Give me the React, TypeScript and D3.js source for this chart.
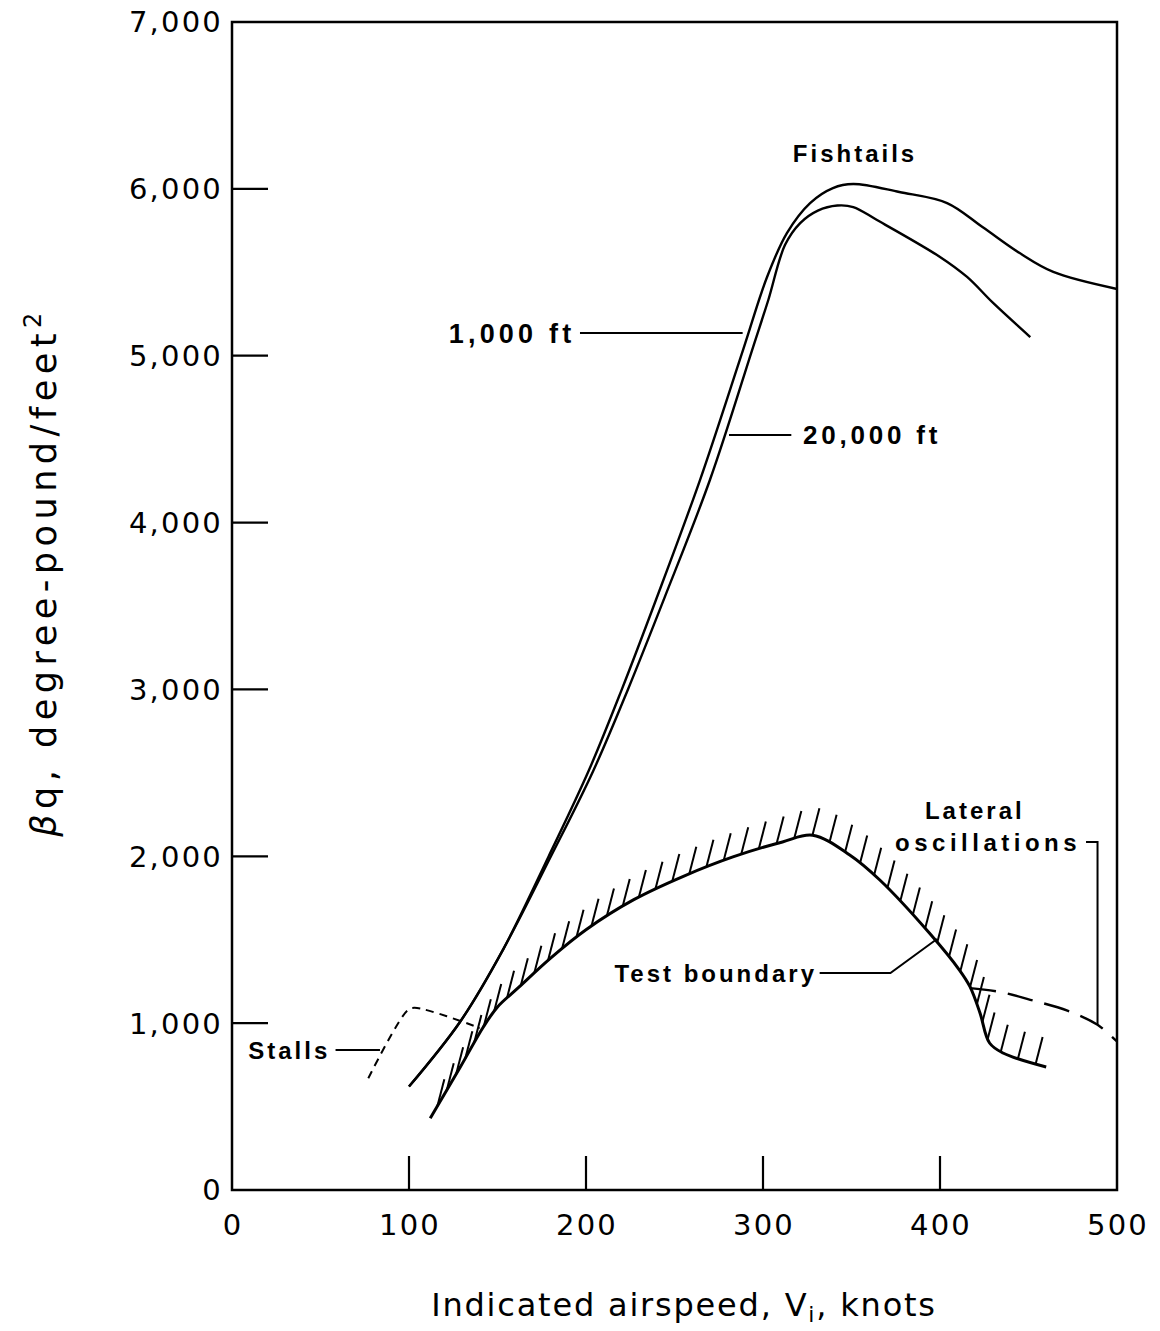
import React, { useEffect, useRef } from "react";
import * as d3 from "d3";

const W = 1160;
const H = 1331;

// Axis ticks
const knotTicks = [0, 100, 200, 300, 400, 500];
const betaTicks = [0, 1000, 2000, 3000, 4000, 5000, 6000, 7000];

// Fishtail limit, 1,000 ft altitude  [knots, beta*q]
const alt1000ft: [number, number][] = [
  [100, 620], [128.8, 1007], [153, 1438], [179, 2002], [201.7, 2517], [220.3, 3002],
  [239.5, 3536], [264.4, 4255], [288.7, 5034], [302.3, 5472], [313.5, 5735],
  [326.6, 5915], [339.5, 6005], [351, 6029], [377, 5981], [404, 5915],
  [424, 5771], [445, 5615], [464, 5502], [500, 5400],
];

// Fishtail limit, 20,000 ft altitude
const alt20000ft: [number, number][] = [
  [100, 620], [128.8, 1007], [153, 1438], [180.2, 2000], [204, 2510], [223.7, 3000],
  [244, 3540], [270, 4255], [294.4, 5052], [303, 5334], [312.4, 5663],
  [321, 5795], [331, 5870], [342, 5900], [351, 5891], [364.4, 5813],
  [400, 5592], [415.3, 5472], [430, 5316], [451, 5112],
];

// Test boundary
const testBoundary: [number, number][] = [
  [112, 430], [129, 737], [142, 977], [150, 1097], [161, 1205], [180, 1390],
  [200, 1560], [227, 1740], [255, 1880], [283, 1996], [311, 2086], [328, 2126],
  [349, 2008], [366, 1858], [394, 1540], [411, 1318], [417, 1217],
  [422.6, 1061], [428, 881], [435.6, 821], [460, 737],
];

// Lateral oscillation limit
const lateralOsc: [number, number][] = [
  [417, 1210], [435, 1185], [451, 1140], [472, 1075], [489, 990], [500, 890],
];

// Stall limit
const stallLimit: [number, number][] = [
  [77, 670], [99, 1075], [103, 1092], [140, 971],
];

export default function App() {
  const ref = useRef<SVGSVGElement>(null);

  useEffect(() => {
    const svg = d3.select(ref.current);
    svg.selectAll("*").remove();

    const x = d3.scaleLinear().domain([0, 500]).range([232, 1117]);
    const y = d3.scaleLinear().domain([0, 7000]).range([1190, 22]);
    const fmt = d3.format(",");
    const tickFont = "'DejaVu Sans', sans-serif";
    const noteFont = "'Liberation Sans', Arial, sans-serif";

    const smooth = d3
      .line<[number, number]>()
      .x((d) => x(d[0]))
      .y((d) => y(d[1]))
      .curve(d3.curveCatmullRom.alpha(0.5));
    const straight = d3
      .line<[number, number]>()
      .x((d) => x(d[0]))
      .y((d) => y(d[1]));

    // Frame
    svg
      .append("rect")
      .attr("x", x(0))
      .attr("y", y(7000))
      .attr("width", x(500) - x(0))
      .attr("height", y(0) - y(7000))
      .attr("fill", "none")
      .attr("stroke", "#000")
      .attr("stroke-width", 2.5);

    // Y ticks (inward) and labels
    const g = svg.append("g");
    g.selectAll("line.yt")
      .data(betaTicks.filter((t) => t > 0 && t < 7000))
      .join("line")
      .attr("x1", x(0))
      .attr("x2", x(0) + 36)
      .attr("y1", (d) => y(d))
      .attr("y2", (d) => y(d))
      .attr("stroke", "#000")
      .attr("stroke-width", 2.2);
    g.selectAll("text.yl")
      .data(betaTicks)
      .join("text")
      .attr("x", x(0) - 9)
      .attr("y", (d) => y(d))
      .attr("dy", "0.36em")
      .attr("text-anchor", "end")
      .attr("font-family", tickFont)
      .attr("font-size", 29)
      .attr("letter-spacing", 2.2)
      .text((d) => fmt(d));

    // X ticks (inward) and labels
    g.selectAll("line.xt")
      .data(knotTicks.filter((t) => t > 0 && t < 500))
      .join("line")
      .attr("x1", (d) => x(d))
      .attr("x2", (d) => x(d))
      .attr("y1", y(0))
      .attr("y2", y(0) - 34)
      .attr("stroke", "#000")
      .attr("stroke-width", 2.2);
    g.selectAll("text.xl")
      .data(knotTicks)
      .join("text")
      .attr("x", (d) => x(d) + 1)
      .attr("y", y(0) + 45)
      .attr("text-anchor", "middle")
      .attr("font-family", tickFont)
      .attr("font-size", 29)
      .attr("letter-spacing", 2.2)
      .text((d) => String(d));

    // Axis titles
    const xt = svg
      .append("text")
      .attr("x", 684)
      .attr("y", 1316)
      .attr("text-anchor", "middle")
      .attr("font-family", tickFont)
      .attr("font-size", 32)
      .attr("letter-spacing", 1.8);
    xt.append("tspan").text("Indicated airspeed, V");
    xt.append("tspan").attr("font-size", 22).attr("dy", 6).text("i");
    xt.append("tspan").attr("dy", -6).text(", knots");

    const yt = svg
      .append("text")
      .attr("transform", "translate(56,572) rotate(-90)")
      .attr("text-anchor", "middle")
      .attr("font-family", tickFont)
      .attr("font-size", 35)
      .attr("letter-spacing", 5.5);
    yt.append("tspan").attr("font-style", "italic").text("β");
    yt.append("tspan").text("q, degree-pound/feet");
    yt.append("tspan").attr("font-size", 24).attr("dy", -15).text("2");

    // Curves
    const curves: { data: [number, number][]; w: number; dash?: string }[] = [
      { data: alt1000ft, w: 2.4 },
      { data: alt20000ft, w: 2.4 },
      { data: testBoundary, w: 3 },
      { data: lateralOsc, w: 2.4, dash: "26,12" },
      { data: stallLimit, w: 2, dash: "8,6" },
    ];
    curves.forEach((c) => {
      svg
        .append("path")
        .attr("d", smooth(c.data))
        .attr("fill", "none")
        .attr("stroke", "#000")
        .attr("stroke-width", c.w)
        .attr("stroke-dasharray", c.dash ?? null);
    });

    // Hatching on the test boundary
    const bPath = svg
      .append("path")
      .attr("d", smooth(testBoundary))
      .attr("fill", "none")
      .attr("stroke", "none")
      .node() as SVGPathElement;
    const total = bPath.getTotalLength();
    const hatchEnd = x(458.5);
    for (let s = 14; s < total; s += 18.5) {
      const p = bPath.getPointAtLength(s);
      if (p.x > hatchEnd) break;
      svg
        .append("line")
        .attr("x1", p.x)
        .attr("y1", p.y)
        .attr("x2", p.x + 7)
        .attr("y2", p.y - 27)
        .attr("stroke", "#000")
        .attr("stroke-width", 2);
    }

    // Annotations
    const note = (txt: string, kx: number, v: number, anchor: string, size = 24, ls = 3) =>
      svg
        .append("text")
        .attr("x", x(kx))
        .attr("y", y(v))
        .attr("dy", "0.36em")
        .attr("text-anchor", anchor)
        .attr("font-family", noteFont)
        .attr("font-weight", "bold")
        .attr("font-size", size)
        .attr("letter-spacing", ls)
        .text(txt);
    const leader = (pts: [number, number][]) =>
      svg
        .append("path")
        .attr("d", straight(pts))
        .attr("fill", "none")
        .attr("stroke", "#000")
        .attr("stroke-width", 2);

    note("Fishtails", 352, 6215, "middle");
    note("1,000 ft", 194, 5136, "end", 27, 4.2);
    leader([[196.6, 5136], [288.5, 5136]]);
    note("20,000 ft", 322.6, 4525, "start", 26, 3.8);
    leader([[280.8, 4525], [316, 4525]]);
    note("Test boundary", 330.5, 1300, "end");
    leader([[332, 1300], [372, 1300], [398.3, 1504]]);
    note("Stalls", 55.5, 839, "end");
    leader([[58.5, 839], [83.6, 839]]);
    note("Lateral", 391.5, 2277, "start");
    note("oscillations", 374.6, 2086, "start", 24, 4.5);
    leader([[482.5, 2086], [489, 2086], [489, 990]]);
  }, []);

  return (
    <svg
      ref={ref}
      width={W}
      height={H}
      style={{ position: "absolute", left: 0, top: 0, background: "#fff" }}
    />
  );
}
